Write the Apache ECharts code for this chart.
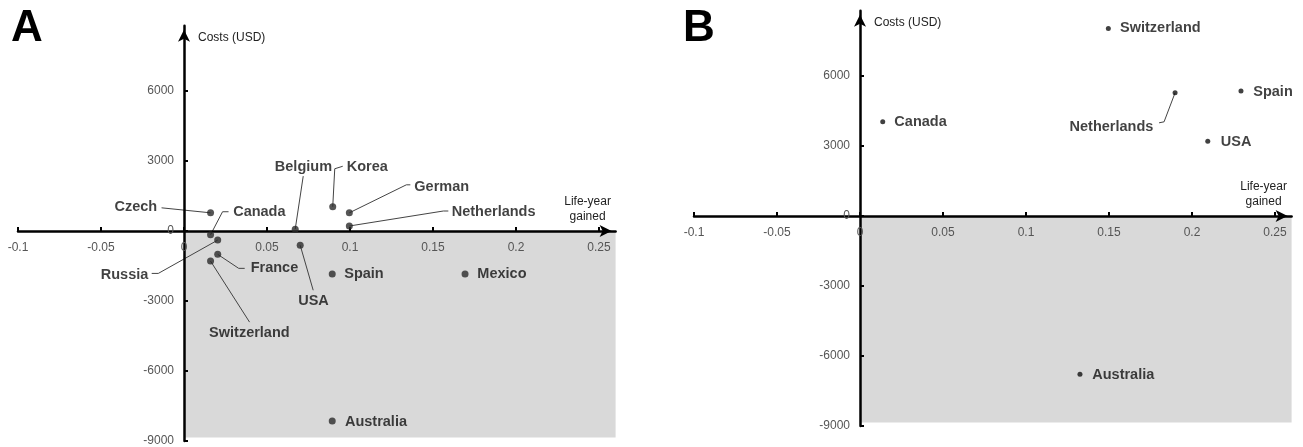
<!DOCTYPE html>
<html>
<head>
<meta charset="utf-8">
<script src="https://cdn.jsdelivr.net/npm/echarts@6/dist/echarts.min.js"></script>
<style>
html,body{margin:0;padding:0;background:#fff;}
#chart{width:1303px;height:447px;}
</style>
</head>
<body>
<div id="chart"></div>
<script>
// ---------- data ----------
const xTicks = [-0.1, -0.05, 0, 0.05, 0.1, 0.15, 0.2, 0.25];
const yTicks = [-9000, -6000, -3000, 0, 3000, 6000];

// Panel A
const countriesA = ['Czech','Canada','Belgium','Korea','German','Netherlands','Russia','France','Switzerland','USA','Spain','Mexico','Australia'];
const lifeYearsA = [0.016, 0.016, 0.067, 0.0896, 0.0996, 0.0996, 0.0203, 0.0203, 0.016, 0.07, 0.0893, 0.1693, 0.0893];
const costsA     = [780, -160, 80, 1040, 780, 215, -390, -1000, -1290, -610, -1840, -1840, -8140];

// Panel B
const countriesB = ['Canada','Switzerland','Netherlands','Spain','USA','Australia'];
const lifeYearsB = [0.0137, 0.1496, 0.1898, 0.2295, 0.2095, 0.1325];
const costsB     = [4040, 8040, 5280, 5360, 3200, -6780];

// ---------- layout (label placement, px relative to the point) ----------
const labelPosA = [
  {dx:-53.4, dy:-5.4, align:'right'},
  {dx:22.6,  dy:-22.4, align:'left'},
  {dx:8.2,   dy:-62,  align:'center'},
  {dx:14,    dy:-39.7, align:'left'},
  {dx:65,    dy:-26,  align:'left'},
  {dx:102.4, dy:-13.7, align:'left'},
  {dx:-69.4, dy:35,   align:'right'},
  {dx:33,    dy:14,   align:'left'},
  {dx:38.8,  dy:71.7, align:'center'},
  {dx:13.3,  dy:55.7, align:'center'},
  {dx:12,    dy:0,    align:'left'},
  {dx:12.3,  dy:0,    align:'left'},
  {dx:12.7,  dy:1,    align:'left'}
];
const leaderA = [
  [[-49,-5]],
  [[12,-23],[18,-23]],
  [[8,-53]],
  [[2,-38],[10,-40.5]],
  [[57,-28],[61,-28]],
  [[94,-15],[99,-15]],
  [[-59.4,33.3],[-66,33.3]],
  [[21,14],[27,14]],
  [[39,61]],
  [[13,45]],
  null, null, null
];
const labelPosB = [
  {dx:11.6, dy:0, align:'left'},
  {dx:11.7, dy:0, align:'left'},
  {dx:-21.7, dy:34, align:'right'},
  {dx:12.3, dy:1, align:'left'},
  {dx:13,   dy:1, align:'left'},
  {dx:12.3, dy:0.5, align:'left'}
];
const leaderB = [null, null, [[-11,29],[-16,30]], null, null, null];

const X_MIN = -0.1, X_MAX = 0.26, Y_MIN = -9000, Y_MAX = 8800, GRAY_BOTTOM = -8850;
const FONT = '"Liberation Sans", Arial, Helvetica, sans-serif';
const W = 1303, H = 447;
const grids = [
  {left: 18, right: 687.4, top: 25.7, bottom: 6},
  {left: 694, right: 11.4, top: 10.7, bottom: 21}
];

// distance (px) from the grid's left / bottom edge to the zero lines
function zeroOffsets(g) {
  const w = W - g.left - g.right, h = H - g.top - g.bottom;
  return {
    x: w * (0 - X_MIN) / (X_MAX - X_MIN),
    y: h * (0 - Y_MIN) / (Y_MAX - Y_MIN)
  };
}

function makeX(gi) {
  const z = zeroOffsets(grids[gi]);
  return {
    gridIndex: gi, type: 'value', min: X_MIN, max: X_MAX, z: 4,
    position: 'bottom', offset: -z.y,
    splitLine: {show: false},
    axisLine: {onZero: false, lineStyle: {color: '#000', width: 2.5},
      symbol: ['none', 'arrow'], symbolSize: [9, 12], symbolOffset: [0, -4]},
    axisTick: {inside: true, length: 4, lineStyle: {color: '#000', width: 2}, customValues: xTicks},
    axisLabel: {customValues: xTicks, formatter: v => String(v), color: '#555', fontSize: 12, fontFamily: FONT, margin: 11},
    name: 'Life-year\ngained', nameLocation: 'end', nameGap: -28,
    nameTextStyle: {align: 'center', verticalAlign: 'bottom', padding: [0, 0, 7, 0], lineHeight: 15,
      fontSize: 12, fontFamily: FONT, color: '#222'}
  };
}
function makeY(gi) {
  const z = zeroOffsets(grids[gi]);
  return {
    gridIndex: gi, type: 'value', min: Y_MIN, max: Y_MAX, z: 4,
    position: 'left', offset: -z.x,
    splitLine: {show: false},
    axisLine: {onZero: false, lineStyle: {color: '#000', width: 2.5},
      symbol: ['none', 'arrow'], symbolSize: [9, 12], symbolOffset: [0, -4]},
    axisTick: {inside: true, length: 4, lineStyle: {color: '#000', width: 2}, customValues: yTicks},
    axisLabel: {customValues: yTicks, formatter: v => String(v), color: '#555', fontSize: 12, fontFamily: FONT, margin: 10},
    name: 'Costs (USD)', nameLocation: 'end', nameGap: -12,
    nameTextStyle: {align: 'left', verticalAlign: 'middle', padding: [0, 0, 0, 14],
      fontSize: 12, fontFamily: FONT, color: '#222'}
  };
}

function scatterSeries(gi, names, xs, ys, pos, dotSize, dotColor) {
  return {
    type: 'scatter', xAxisIndex: gi, yAxisIndex: gi, z: 5, silent: true,
    symbol: 'circle', symbolSize: dotSize,
    itemStyle: {color: dotColor},
    label: {show: true, position: 'inside', formatter: '{b}', fontWeight: 'bold',
      fontSize: 14.5, fontFamily: FONT, color: '#111', verticalAlign: 'middle'},
    data: names.map((n, i) => ({
      name: n, value: [xs[i], ys[i]],
      label: {offset: [pos[i].dx, pos[i].dy], align: pos[i].align}
    }))
  };
}
function leaderSeries(gi, xs, ys, lines) {
  return {
    type: 'custom', xAxisIndex: gi, yAxisIndex: gi, z: 3, silent: true,
    data: xs.map((x, i) => [x, ys[i], i]),
    encode: {x: 0, y: 1},
    renderItem: function (params, api) {
      const seg = lines[api.value(2)];
      if (!seg) return {type: 'group', children: []};
      const p = api.coord([api.value(0), api.value(1)]);
      const pts = [p].concat(seg.map(o => [p[0] + o[0], p[1] + o[1]]));
      return {type: 'polyline', shape: {points: pts},
        style: {stroke: '#444', lineWidth: 1, fill: null}};
    }
  };
}
function grayArea(gi) {
  return {
    type: 'scatter', xAxisIndex: gi, yAxisIndex: gi, z: 1, silent: true, data: [],
    markArea: {silent: true, itemStyle: {color: '#d9d9d9'},
      data: [[{coord: [0, 0]}, {coord: [X_MAX, GRAY_BOTTOM]}]]}
  };
}
function dominantBox(left, top) {
  return {
    type: 'group', left: left, top: top, z: 20,
    children: [
      {type: 'rect', shape: {x: 0, y: 0, width: 97, height: 30},
        style: {fill: '#d9d9d9', stroke: '#333', lineWidth: 1}},
      {type: 'text', x: 48.5, y: 15,
        style: {text: 'Dominant', align: 'center', verticalAlign: 'middle',
          font: 'italic 18px ' + FONT, fill: '#111'}}
    ]
  };
}

const chart = echarts.init(document.getElementById('chart'), null, {renderer: 'canvas'});
chart.setOption({
  animation: false,
  backgroundColor: '#fff',
  grid: grids.map(g => Object.assign({containLabel: false, outerBoundsMode: 'none'}, g)),
  xAxis: [makeX(0), makeX(1)],
  yAxis: [makeY(0), makeY(1)],
  graphic: [
    {type: 'text', left: 11, top: 7, style: {text: 'A', font: 'bold 44px ' + FONT, fill: '#000'}},
    {type: 'text', left: 683, top: 7, style: {text: 'B', font: 'bold 44px ' + FONT, fill: '#000'}},
    dominantBox(498, 402),
    dominantBox(1174, 386)
  ],
  series: [
    grayArea(0),
    leaderSeries(0, lifeYearsA, costsA, leaderA),
    scatterSeries(0, countriesA, lifeYearsA, costsA, labelPosA, 7, '#2a2a2a'),
    grayArea(1),
    leaderSeries(1, lifeYearsB, costsB, leaderB),
    scatterSeries(1, countriesB, lifeYearsB, costsB, labelPosB, 5, '#111')
  ]
});
</script>
</body>
</html>
